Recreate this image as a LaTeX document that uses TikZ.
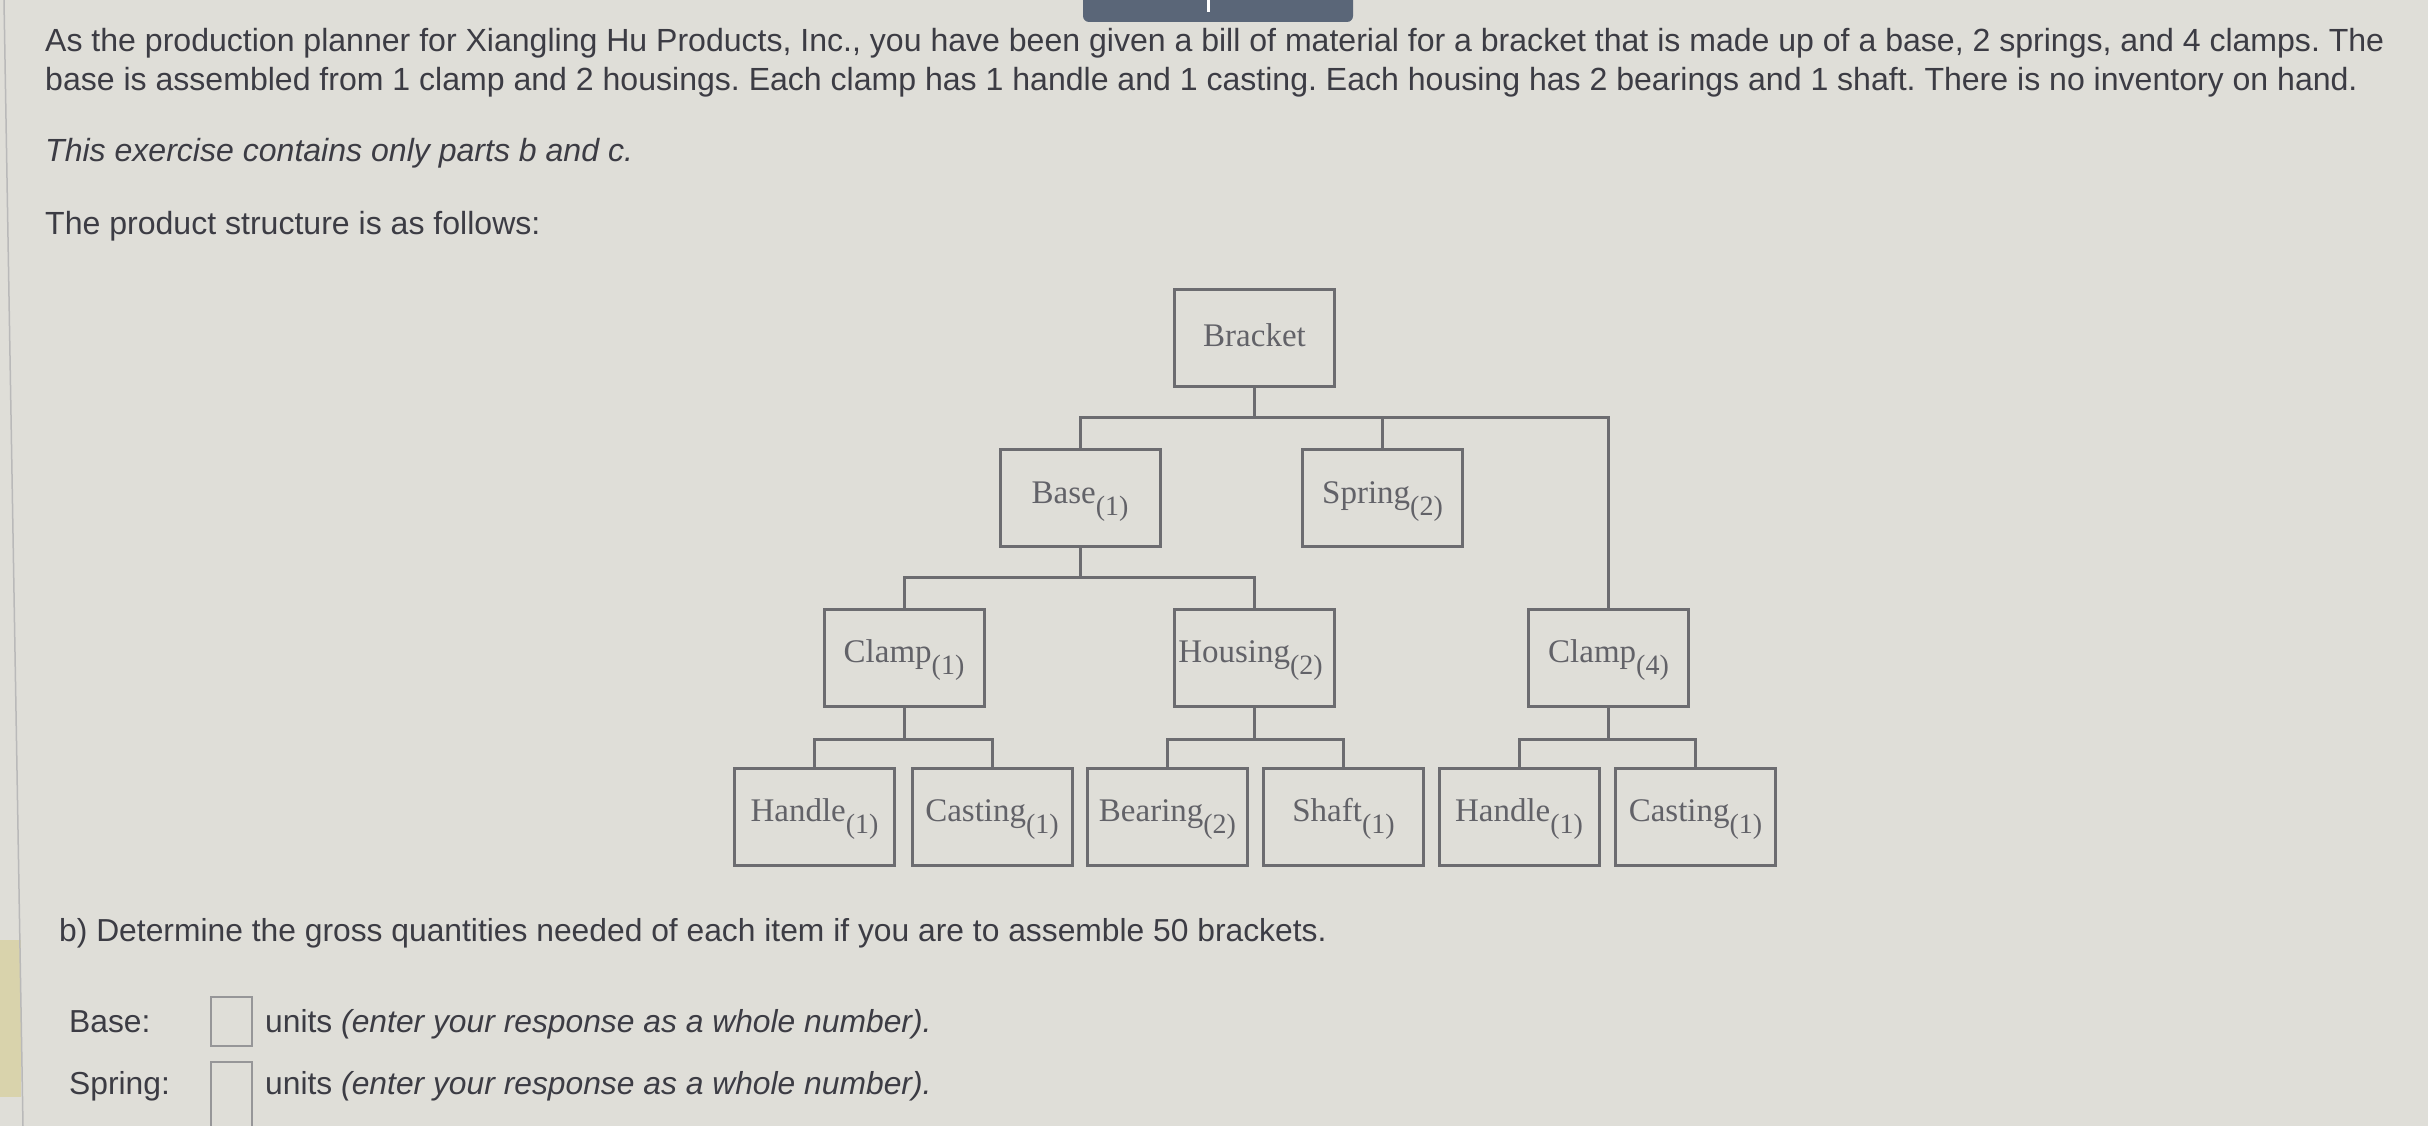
\documentclass[tikz,border=0pt]{standalone}
\usepackage{fontspec}
\setmainfont{Liberation Serif}
\newfontfamily\arialf{Liberation Sans}
\definecolor{bgc}{RGB}{223,222,216}
\definecolor{paratext}{RGB}{60,60,68}
\definecolor{boxc}{RGB}{108,108,112}
\definecolor{diagtext}{RGB}{98,98,104}
\definecolor{tabc}{RGB}{90,102,120}
\definecolor{stripc}{RGB}{217,211,172}
\definecolor{inputc}{RGB}{150,150,152}
\definecolor{edgec}{RGB}{185,185,185}
\newcommand{\sbs}[1]{\raisebox{-12pt}{\fontsize{28}{28}\selectfont(#1)}}
\frenchspacing
\begin{document}
\begin{tikzpicture}[x=1pt,y=-1pt,
  itembox/.style={draw=boxc, line width=3pt, minimum width=160pt, minimum height=97pt,
    inner sep=0pt, text=diagtext, font=\fontsize{33}{33}\selectfont,
    text height=24pt, text depth=14pt},
  conn/.style={draw=boxc, line width=3pt},
  para/.style={anchor=base west, inner sep=0pt, text=paratext, font=\arialf\fontsize{32.05}{32.05}\selectfont},
  lowpara/.style={anchor=base west, inner sep=0pt, text=paratext, font=\arialf\fontsize{31.8}{31.8}\selectfont},
  inbox/.style={draw=inputc, line width=2pt}]
% background
\fill[bgc] (0,0) rectangle (2428,1126);
\useasboundingbox (0,0) rectangle (2428,1126);
\fill[stripc] (0,940) rectangle (21,1097);
\draw[edgec, line width=1.5pt] (4,0) -- (23,1126);
% top tab
\fill[tabc, rounded corners=6pt] (1083,-10) rectangle (1353,22);
\fill[white] (1207,0) rectangle (1210,12);
% text
\node[para] (l1) at (45,52) {As the production planner for Xiangling Hu Products, Inc., you have been given a bill of material for a bracket that is made up of a base, 2 springs, and 4 clamps. The};
\node[para] (l2) at (45,91) {base is assembled from 1 clamp and 2 housings. Each clamp has 1 handle and 1 casting. Each housing has 2 bearings and 1 shaft. There is no inventory on hand.};
\node[para] (l3) at (45,162) {\itshape This exercise contains only parts b and c.};
\node[para] (l4) at (45,235) {The product structure is as follows:};
% tree
\node[itembox, text depth=8pt] (bracket) at (1254.5,338) {Bracket};
\node[itembox] (base) at (1080,498) {Base\sbs{1}};
\node[itembox] (spring) at (1382.5,498) {Spring\sbs{2}};
\node[itembox] (clampA) at (904,657.5) {Clamp\sbs{1}};
\node[itembox] (housing) at (1254.5,657.5) {\hspace*{-8pt}Housing\sbs{2}};
\node[itembox] (clampB) at (1608.5,657.5) {Clamp\sbs{4}};
\node[itembox] (handleA) at (814.5,816.5) {Handle\sbs{1}};
\node[itembox] (castingA) at (992,816.5) {Casting\sbs{1}};
\node[itembox] (bearing) at (1167.5,816.5) {Bearing\sbs{2}};
\node[itembox] (shaft) at (1343.5,816.5) {Shaft\sbs{1}};
\node[itembox] (handleB) at (1519,816.5) {Handle\sbs{1}};
\node[itembox] (castingB) at (1695.5,816.5) {Casting\sbs{1}};
\coordinate (busA) at (0,417);
\coordinate (busB) at (0,577);
\coordinate (busC) at (0,739);
\draw[conn] (bracket.south) -- (bracket.south |- busA);
\draw[conn] (base.north) -- (base.north |- busA) -- (clampB.north |- busA) -- (clampB.north);
\draw[conn] (spring.north) -- (spring.north |- busA);
\draw[conn] (base.south) -- (base.south |- busB);
\draw[conn] (clampA.north) -- (clampA.north |- busB) -- (housing.north |- busB) -- (housing.north);
\draw[conn] (clampA.south) -- (clampA.south |- busC);
\draw[conn] (handleA.north) -- (handleA.north |- busC) -- (castingA.north |- busC) -- (castingA.north);
\draw[conn] (housing.south) -- (housing.south |- busC);
\draw[conn] (bearing.north) -- (bearing.north |- busC) -- (shaft.north |- busC) -- (shaft.north);
\draw[conn] (clampB.south) -- (clampB.south |- busC);
\draw[conn] (handleB.north) -- (handleB.north |- busC) -- (castingB.north |- busC) -- (castingB.north);
% part b
\node[lowpara] (qb) at (59,941) {b) Determine the gross quantities needed of each item if you are to assemble 50 brackets.};
\node[lowpara] (lbase) at (69,1032) {Base:};
\node[lowpara] (ubase) at (265,1032) {units \textit{(enter your response as a whole number).}};
\node[lowpara] (lspring) at (69,1094) {Spring:};
\node[lowpara] (uspring) at (265,1094) {units \textit{(enter your response as a whole number).}};
\draw[inbox] (211,997) rectangle (252,1046);
\draw[inbox] (211,1140) -- (211,1062) -- (252,1062) -- (252,1140);
\end{tikzpicture}
\end{document}
